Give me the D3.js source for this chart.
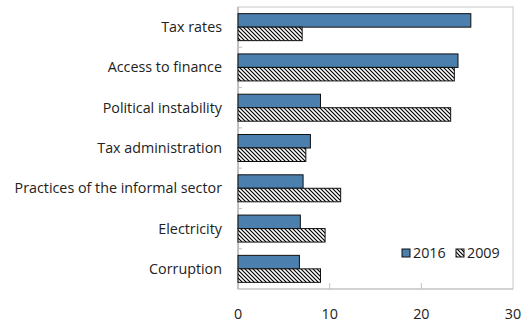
<!DOCTYPE html>
<html><head><meta charset="utf-8">
<script src="https://cdn.jsdelivr.net/npm/d3@7"></script>
<style>body{margin:0;background:#fff}svg text{font-family:"Open Sans","Noto Sans",sans-serif;fill:#222}</style>
</head><body>
<svg id="c" width="526" height="325"></svg>
<script>
const categories = ["Tax rates","Access to finance","Political instability","Tax administration","Practices of the informal sector","Electricity","Corruption"];
const values2016 = [25.4, 24.0, 9.0, 7.9, 7.1, 6.8, 6.7];
const values2009 = [7.0, 23.6, 23.2, 7.4, 11.2, 9.5, 9.0];
const seriesNames = ["2016","2009"];
const xTicks = [0,10,20,30];

const svg = d3.select("#c");
const m = {l:238, r:513, t:7, b:289};
const defs = svg.append("defs");
const pat = defs.append("pattern").attr("id","hatch").attr("patternUnits","userSpaceOnUse")
  .attr("width",4).attr("height",4);
pat.append("rect").attr("width",4).attr("height",4).attr("fill","#fff");
pat.append("path").attr("d","M-1,-1 L5,5 M-1,3 L1,5 M3,-1 L5,1").attr("stroke","#000").attr("stroke-width",1.2);

const x = d3.scaleLinear().domain([0,30]).range([m.l,m.r]);
const y = d3.scaleBand().domain(categories).range([m.t,m.b]).paddingInner(0.33).paddingOuter(0.165);
const ySub = d3.scaleBand().domain(seriesNames).range([0,y.bandwidth()]);

// frame
svg.append("rect").attr("x",m.l).attr("y",m.t).attr("width",m.r-m.l).attr("height",m.b-m.t)
  .attr("fill","none").attr("stroke","#c8c8c8").attr("stroke-width",1);
svg.append("line").attr("x1",m.l).attr("x2",m.l).attr("y1",m.t).attr("y2",m.b).attr("stroke","#a0a0a0");
svg.append("line").attr("x1",m.l).attr("x2",m.r).attr("y1",m.b).attr("y2",m.b).attr("stroke","#c0c0c0");

// category separators ticks
const step = (m.b-m.t)/categories.length;
for(let i=1;i<categories.length;i++){
  const yy = m.t + step*i;
  svg.append("line").attr("x1",m.l).attr("x2",m.l+4).attr("y1",yy).attr("y2",yy).attr("stroke","#c0c0c0");
}

// bars
const data = categories.map((c,i)=>({c, v:[values2016[i], values2009[i]]}));
const g = svg.append("g");
data.forEach(d=>{
  seriesNames.forEach((s,j)=>{
    g.append("rect").attr("x",x(0)).attr("y",y(d.c)+ySub(s))
      .attr("width",x(d.v[j])-x(0)).attr("height",ySub.bandwidth())
      .attr("fill", j===0 ? "#4a7fae" : "url(#hatch)")
      .attr("stroke","#111").attr("stroke-width",1);
  });
});

// x axis ticks & labels
xTicks.forEach(t=>{
  if(t>0 && t<30) svg.append("line").attr("x1",x(t)).attr("x2",x(t)).attr("y1",m.b).attr("y2",m.b-6).attr("stroke","#c0c0c0");
  svg.append("text").attr("x",x(t)).attr("y",319).attr("text-anchor","middle").attr("font-size",14.3).text(t);
});

// y labels
categories.forEach(c=>{
  svg.append("text").attr("x",222).attr("y",y(c)+y.bandwidth()/2+5).attr("text-anchor","end")
    .attr("font-size",14.3).text(c);
});

// legend
const lg = svg.append("g");
[[402,"#4a7fae","2016"],[456,"url(#hatch)","2009"]].forEach(([lx,f,t])=>{
  lg.append("rect").attr("x",lx).attr("y",249).attr("width",8).attr("height",8).attr("fill",f).attr("stroke","#111");
  lg.append("text").attr("x",lx+11).attr("y",258).attr("font-size",14.3).text(t);
});
</script>
</body></html>
